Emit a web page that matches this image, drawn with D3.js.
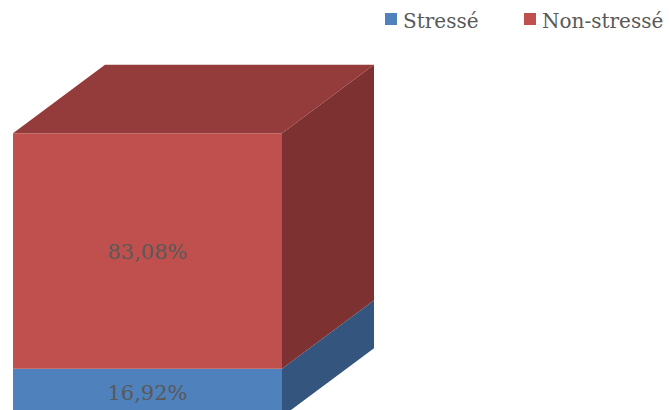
<!DOCTYPE html>
<html>
<head>
<meta charset="utf-8">
<script src="https://cdn.jsdelivr.net/npm/d3@7"></script>
<style>
  body { margin: 0; background: #fff; }
  svg { display: block; }
  text { font-family: "DejaVu Serif", serif; fill: #595959; }
</style>
</head>
<body>
<svg id="chart" width="669" height="410"></svg>
<script>
// data
const series = ["Stressé", "Non-stressé"];
const values = [16.92, 83.08];
const labels = ["16,92%", "83,08%"];
const frontColors = ["#4F81BD", "#C0504D"];
const sideColors = ["#34557E", "#7D3130"];
const topColors = ["#3E6595", "#943C3B"];

const svg = d3.select("#chart");

// --- geometry ---
const x0 = 13, x1 = 282;
const dx = 92, dy = -68.5;
const y = d3.scaleLinear().domain([0, 100]).range([416.7, 133.3]);

// stacked segments
let acc = 0;
const segs = values.map((v, i) => {
  const s = { i, lo: acc, hi: acc + v };
  acc += v;
  return s;
});

const g = svg.append("g");

segs.forEach(s => {
  const yb = y(s.lo), yt = y(s.hi);
  // side face
  g.append("path")
    .attr("d", `M${x1},${yb}L${x1 + dx},${yb + dy}L${x1 + dx},${yt + dy}L${x1},${yt}Z`)
    .attr("fill", sideColors[s.i]);
  // front face
  g.append("rect")
    .attr("x", x0).attr("y", yt)
    .attr("width", x1 - x0).attr("height", yb - yt)
    .attr("fill", frontColors[s.i]);
});

// top face of last segment
const last = segs[segs.length - 1];
const yTop = y(last.hi);
g.append("path")
  .attr("d", `M${x0},${yTop}L${x0 + dx},${yTop + dy}L${x1 + dx},${yTop + dy}L${x1},${yTop}Z`)
  .attr("fill", topColors[last.i]);

// value labels
segs.forEach(s => {
  g.append("text")
    .attr("x", (x0 + x1) / 2)
    .attr("y", (y(s.lo) + y(s.hi)) / 2)
    .attr("dy", "0.36em")
    .attr("text-anchor", "middle")
    .attr("font-size", 21)
    .text(labels[s.i]);
});

// legend
const legendX = [385, 524];
const leg = svg.append("g");
series.forEach((name, i) => {
  leg.append("rect")
    .attr("x", legendX[i]).attr("y", 13)
    .attr("width", 12).attr("height", 12)
    .attr("fill", frontColors[i]);
  leg.append("text")
    .attr("x", legendX[i] + 18).attr("y", 28)
    .attr("font-size", 20)
    .text(name);
});
</script>
</body>
</html>
